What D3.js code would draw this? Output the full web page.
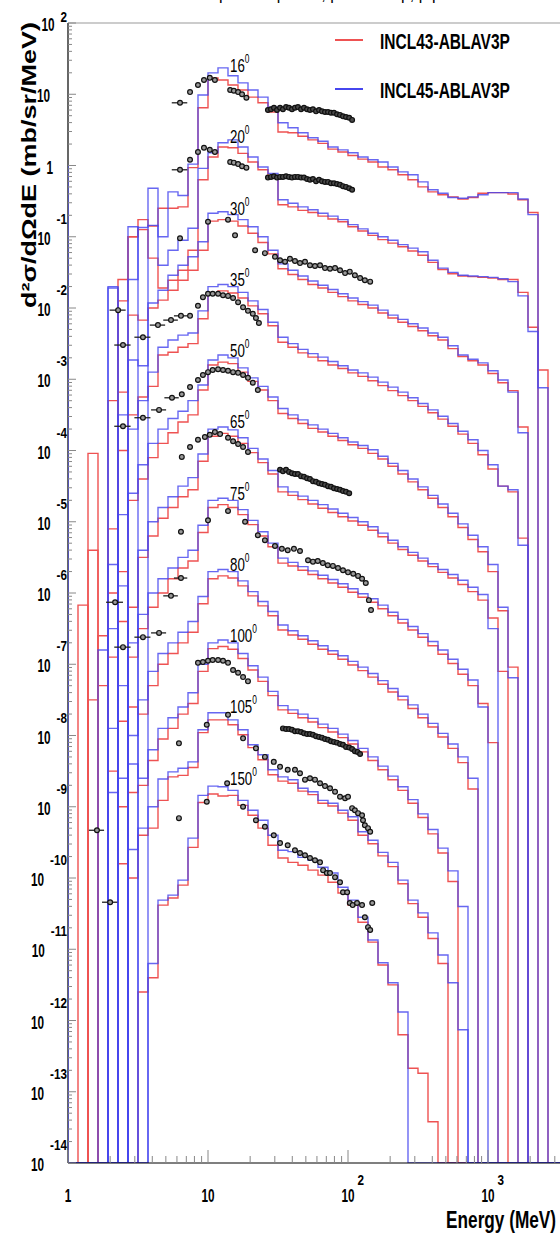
<!DOCTYPE html>
<html>
<head>
<meta charset="utf-8">
<script src="https://cdn.jsdelivr.net/npm/d3@7"></script>
<style>
  body { margin: 0; background: #fff; }
  svg { display: block; }
  text { font-family: "Liberation Sans", Arial, sans-serif; fill: #000; }
</style>
</head>
<body>
<svg id="chart" width="560" height="1238"></svg>
<script>
// Energy binning of the model histograms: logarithmic, 14 bins per decade from 1 MeV
const binsPerDecade = 14;
const nBins = 52;

// Emission angles (degrees) and the factor 10^n applied to each spectrum
const angles = ["16", "20", "30", "35", "50", "65", "75", "80", "100", "105", "150"];
const scaleExp = [0, -1, -2, -3, -4, -5, -6, -7, -8, -9, -10];

// log10 of d2sigma/dOmega dE (mb/sr/MeV) per energy bin, before the 10^n factor; null = empty bin
const incl43 = [
  [null,null,null,null,null,-1.6,-1.0,-0.76,-0.85,-0.6,-0.6,-0.58,-0.03, 0.81,1.23,1.20,1.13,1.06,0.96,0.88,0.75, 0.47,0.46,0.41,0.36,0.31,0.23,0.19,0.14,0.09,0.05,-0.02,-0.06,-0.13,-0.20,-0.30,-0.37,-0.41,-0.44,-0.47,-0.45,-0.39,-0.38,-0.38,-0.40,-0.48,-0.66,-2.87],
  [null,null,null,null,null,-0.9,0.0,0.10,-0.3,-0.72,-0.61,-0.47,-0.19, 0.80,1.12,1.26,1.25,1.17,1.05,0.94,0.84, 0.45,0.42,0.37,0.34,0.29,0.25,0.21,0.14,0.08,0.02,-0.04,-0.09,-0.14,-0.20,-0.26,-0.36,-0.46,-0.52,-0.55,-0.56,-0.57,-0.58,-0.60,-0.60,-0.78,-1.27],
  [null,null,null,null,-1.3,-1.18,-0.10,-0.17,0.0,0.11,0.25,0.39,0.53, 0.81,1.22,1.24,1.22,1.15,1.05,0.92,0.76, 0.55,0.47,0.40,0.33,0.28,0.22,0.16,0.10,0.05,0.00,-0.07,-0.14,-0.20,-0.26,-0.32,-0.39,-0.45,-0.57,-0.68,-0.74,-0.80,-0.92,-1.05,-1.16,-1.67],
  [null,null,null,null,null,-1.0,-0.5,-0.25,-0.1,0.34,0.38,0.45,0.50, 0.85,1.20,1.24,1.21,1.14,1.03,0.92,0.75, 0.52,0.45,0.37,0.31,0.26,0.20,0.15,0.09,0.04,-0.02,-0.09,-0.16,-0.23,-0.30,-0.38,-0.47,-0.56,-0.66,-0.77,-0.90,-1.06,-1.26,-1.50,-1.58,-2.23],
  [null,null,-0.04,null,-1.1,null,-0.7,-0.4,-0.1,0.1,0.25,0.4,0.5, 0.85,1.20,1.24,1.22,1.10,0.97,0.85,0.70, 0.52,0.45,0.38,0.31,0.26,0.20,0.14,0.08,0.03,-0.04,-0.12,-0.22,-0.33,-0.44,-0.55,-0.67,-0.80,-0.93,-1.08,-1.25,-1.42,-1.70,-2.25,-3.04],
  [null,null,-0.4,null,-1.0,-0.7,-1.2,-0.5,-0.2,0.05,0.2,0.35,0.45, 0.85,1.20,1.24,1.20,1.10,0.97,0.83,0.67, 0.42,0.37,0.31,0.25,0.19,0.13,0.07,0.01,-0.05,-0.12,-0.21,-0.30,-0.39,-0.47,-0.55,-0.63,-0.71,-0.79,-0.88,-0.98,-1.10,-1.35,-2.10],
  [null,-0.17,null,-0.6,-0.9,-0.4,-0.9,-0.5,-0.2,0.0,0.2,0.35,0.45, 0.85,1.20,1.24,1.20,1.10,0.96,0.80,0.65, 0.42,0.38,0.32,0.26,0.20,0.14,0.08,0.01,-0.06,-0.13,-0.22,-0.32,-0.42,-0.52,-0.62,-0.74,-0.86,-0.99,-1.14,-1.30,-1.55,-2.10],
  [null,null,-0.5,-0.3,null,-0.8,-0.6,-0.7,-0.3,0.0,0.15,0.3,0.45, 0.85,1.20,1.24,1.21,1.10,0.96,0.82,0.68, 0.48,0.41,0.35,0.28,0.21,0.14,0.07,-0.01,-0.09,-0.18,-0.28,-0.39,-0.50,-0.62,-0.75,-0.88,-1.02,-1.18,-1.38,-1.75],
  [null,null,null,null,-0.5,-1.0,-0.8,-0.7,-0.35,-0.05,0.1,0.3,0.45, 0.90,1.22,1.25,1.21,1.08,0.92,0.76,0.56, 0.36,0.31,0.25,0.19,0.11,0.05,-0.03,-0.12,-0.23,-0.35,-0.48,-0.62,-0.77,-0.95,-1.15,-1.38,-1.65,-2.05],
  [null,null,null,null,null,-0.8,-1.0,-0.4,-0.3,0.09,0.42,0.44,0.55, 1.04,1.22,1.22,1.15,1.01,0.83,0.66,0.45, 0.36,0.33,0.22,0.17,0.05,0.01,-0.09,-0.19,-0.40,-0.52,-0.69,-0.84,-1.08,-1.36,-1.55,-1.85,-2.20],
  [null,null,null,null,null,null,null,-1.6,-1.4,-0.38,-0.28,-0.10,0.43, 1.06,1.18,1.15,1.16,1.02,0.88,0.70,0.46, 0.28,0.22,0.18,0.11,0.04,-0.06,-0.21,-0.38,-0.62,-0.90,-1.22,-1.50,-2.20,-2.67,-2.74,-3.42]
];
const incl45 = [
  [null,null,null,null,-1.7,null,-0.86,null,-0.32,-1.0,-0.37,-0.42,0.02, 0.99,1.30,1.37,1.26,1.16,1.06,0.96,0.82, 0.60,0.53,0.46,0.39,0.34,0.26,0.22,0.18,0.12,0.08,0.05,-0.02,-0.09,-0.13,-0.23,-0.34,-0.39,-0.45,-0.46,-0.44,-0.41,-0.38,-0.38,-0.38,-0.47,-0.69,-3.12],
  [null,null,null,null,-0.72,null,-0.6,0.13,0.16,-0.40,-0.19,-0.05,0.12, 0.96,1.18,1.32,1.36,1.26,1.12,0.98,0.89, 0.52,0.47,0.42,0.38,0.33,0.29,0.24,0.17,0.11,0.05,0.00,-0.05,-0.11,-0.16,-0.21,-0.33,-0.44,-0.50,-0.54,-0.55,-0.56,-0.57,-0.59,-0.63,-0.83,-1.33],
  [null,null,null,null,null,-1.5,-0.73,-0.81,0.07,0.25,0.46,0.60,0.72, 0.93,1.33,1.35,1.31,1.24,1.14,1.00,0.81, 0.62,0.53,0.45,0.38,0.32,0.26,0.20,0.14,0.09,0.04,-0.03,-0.10,-0.16,-0.22,-0.28,-0.35,-0.41,-0.53,-0.66,-0.72,-0.77,-0.88,-1.01,-1.18,-1.75],
  [null,null,null,null,null,null,-0.7,-0.3,0.1,0.45,0.55,0.62,0.65, 0.96,1.30,1.33,1.30,1.22,1.10,0.98,0.80, 0.59,0.50,0.42,0.36,0.31,0.25,0.19,0.13,0.09,0.03,-0.04,-0.11,-0.18,-0.26,-0.34,-0.43,-0.52,-0.62,-0.73,-0.85,-1.00,-1.20,-1.50,-1.55,-2.33],
  [null,null,null,null,null,-0.9,-0.6,-0.2,0.1,0.3,0.45,0.55,0.70, 0.92,1.27,1.34,1.30,1.16,1.02,0.90,0.75, 0.59,0.50,0.43,0.36,0.30,0.24,0.18,0.12,0.07,0.01,-0.08,-0.18,-0.28,-0.40,-0.51,-0.63,-0.75,-0.88,-1.03,-1.19,-1.35,-1.60,-2.20,-3.19],
  [null,null,null,null,-0.6,-0.9,null,-0.4,0.0,0.2,0.35,0.5,0.62, 0.95,1.30,1.33,1.29,1.18,1.03,0.88,0.72, 0.49,0.42,0.36,0.30,0.24,0.18,0.12,0.06,0.00,-0.07,-0.16,-0.26,-0.35,-0.43,-0.51,-0.59,-0.67,-0.74,-0.82,-0.92,-1.02,-1.50],
  [null,null,null,-0.8,-0.5,null,-0.7,-0.3,0.0,0.2,0.35,0.5,0.6, 0.95,1.30,1.33,1.30,1.17,1.02,0.86,0.70, 0.49,0.43,0.37,0.31,0.25,0.19,0.13,0.06,-0.01,-0.08,-0.17,-0.27,-0.37,-0.47,-0.57,-0.68,-0.80,-0.93,-1.07,-1.22,-1.60],
  [null,null,null,null,-0.9,-0.3,-1.0,-0.5,-0.1,0.15,0.3,0.45,0.6, 0.95,1.30,1.33,1.30,1.17,1.02,0.88,0.74, 0.55,0.47,0.40,0.33,0.26,0.19,0.12,0.04,-0.04,-0.13,-0.23,-0.34,-0.45,-0.57,-0.70,-0.83,-0.97,-1.12,-1.30,-1.60],
  [null,null,null,null,-0.8,-0.6,-0.4,-0.6,-0.2,0.1,0.25,0.4,0.6, 1.00,1.30,1.34,1.30,1.15,0.98,0.82,0.62, 0.42,0.36,0.30,0.24,0.16,0.10,0.02,-0.07,-0.18,-0.30,-0.43,-0.57,-0.72,-0.90,-1.10,-1.32,-1.58,-1.90,-2.40],
  [null,null,null,null,null,null,-0.6,-0.3,0.0,0.39,0.49,0.54,0.63, 1.08,1.32,1.32,1.22,1.08,0.87,0.73,0.52, 0.42,0.38,0.26,0.21,0.09,0.05,-0.05,-0.14,-0.35,-0.47,-0.64,-0.78,-1.03,-1.31,-1.49,-1.77,-2.08,-2.47,-3.13],
  [null,null,null,null,null,null,null,null,-1.2,-0.31,-0.24,-0.03,0.56, 1.16,1.29,1.28,1.23,1.09,0.95,0.81,0.60, 0.39,0.37,0.29,0.25,0.15,0.07,-0.13,-0.31,-0.55,-0.87,-1.19,-1.47,-1.88]
];
// Content of the bin just below 1 MeV (outside the drawn range), same units
const below43 = [null, null, null, null, null, null, null, null, null, null, null];
const below45 = [0.0, null, null, null, null, null, null, null, null, null, null];

// Measured spectra: [E (MeV), log10 d2sigma/dOmega dE before the 10^n factor, optional half-width of the energy bin]
const data16 = [[6.31,0.88,0.8],[7.44,1.03],[8.48,1.13],[9.36,1.20],[10.3,1.23],[11.2,1.20],[14.4,1.06],[15.3,1.05],[16.4,1.03],[17.5,1.00],[18.8,0.95]];
const data20 = [[6.31,0.94,0.8],[7.44,1.08],[8.48,1.19],[9.36,1.25],[10.3,1.22],[11.2,1.19],[14.4,1.05],[15.3,1.04],[16.4,1.02],[17.5,0.99],[18.8,0.97]];
const data30 = [[6.31,0.98],[10.0,1.21],[13.9,1.24],[15.6,1.02],[21.7,0.81],[25.5,0.77],[30.1,0.72],[32.7,0.67],[35.5,0.65],[38.5,0.69],[41.8,0.66],[45.4,0.63],[49.3,0.65],[53.5,0.60],[58.1,0.59],[63.1,0.60],[68.5,0.56],[74.4,0.55],[80.8,0.56],[87.7,0.53],[95.3,0.49],[103,0.51],[112,0.46],[122,0.42],[132,0.39],[144,0.37]];
const data35 = [[2.28,0.97,0.3],[2.47,0.48,0.33],[3.43,0.59,0.45],[4.39,0.76,0.55],[5.44,0.83,0.65],[6.41,0.89,0.7],[7.44,0.89],[8.48,1.03],[9.2,1.15],[10.0,1.20],[10.8,1.20],[11.8,1.20],[12.8,1.18],[13.9,1.17],[15.1,1.14],[16.4,1.08],[17.8,1.01],[19.3,0.96],[20.9,0.92],[22.0,0.86],[23.1,0.79]];
const data50 = [[2.47,0.34,0.33],[3.43,0.46,0.45],[4.47,0.57,0.55],[5.53,0.74,0.65],[6.5,0.79],[7.44,0.89],[8.48,0.99],[9.2,1.06],[10.0,1.10],[10.8,1.13],[11.8,1.14],[12.8,1.13],[13.9,1.12],[15.1,1.10],[16.4,1.09],[17.8,1.06],[19.3,1.02],[20.9,0.95],[22.7,0.85]];
const data65 = [[6.5,0.91],[7.44,1.05],[8.48,1.15],[9.5,1.19],[10.3,1.22],[11.2,1.26],[12.2,1.23],[13.9,1.18],[15.1,1.13],[16.4,1.09],[17.8,1.05],[19.3,0.98]];
const data75 = [[6.41,0.86],[10.0,1.02],[13.9,1.15],[18.4,1.0],[22.7,0.81],[25.5,0.74],[30.1,0.66],[33.7,0.62],[37.1,0.60],[41.1,0.62],[45.4,0.59],[51.8,0.46],[56.2,0.44],[60.8,0.45],[66.1,0.42],[71.7,0.39],[78.0,0.38],[84.8,0.35],[92.1,0.32],[100,0.29],[109,0.27],[118,0.24],[126,0.20],[134,0.14],[141,-0.10],[146,-0.24]];
const data80 = [[2.17,0.87,0.3],[2.47,0.24,0.33],[3.43,0.38,0.45],[4.47,0.44,0.55],[5.44,0.96,0.65],[6.41,1.21,0.7]];
const data100 = [[8.48,1.02],[9.2,1.03],[10.0,1.05],[10.8,1.06],[11.8,1.06],[12.8,1.05],[13.9,1.02],[15.1,0.92],[16.4,0.88],[17.8,0.82],[19.3,0.76]];
const data105 = [[6.2,0.89],[9.8,1.15],[13.9,1.29],[17.8,0.96],[22.0,0.82],[25.5,0.70],[29.5,0.63],[32.7,0.56],[37.1,0.52],[41.8,0.52],[45.4,0.47],[49.3,0.38],[53.5,0.40],[58.1,0.38],[63.1,0.33],[68.5,0.29],[74.4,0.26],[80.8,0.21],[87.7,0.14],[95.3,0.12],[100,0.14],[107,-0.02],[112,-0.05],[118,-0.09],[126,-0.12],[128,-0.19],[132,-0.26],[139,-0.30],[144,-0.35]];
const data150 = [[1.61,0.67,0.2],[2.0,-0.34,0.25],[6.2,0.84],[9.8,1.07],[13.7,1.33],[17.8,1.0],[22.0,0.81],[25.5,0.72],[29.5,0.60],[32.7,0.49],[37.1,0.46],[41.8,0.39],[45.4,0.35],[49.3,0.32],[53.5,0.28],[58.1,0.25],[63.1,0.22],[66.4,0.11],[70.6,0.07],[74.4,0.07],[80.8,0.01],[87.7,-0.06],[92.1,-0.20],[98.6,-0.20],[103,-0.35],[108,-0.38],[116,-0.35],[126,-0.38],[132,-0.55],[139,-0.69],[144,-0.73],[149,-0.35]];

// High-statistics runs share one energy grid
const bandEnergy = [26.8,28.2,29.6,31.1,32.7,34.3,36.1,37.9,39.8,41.8,43.9,46.2,48.5,51.0,53.5,56.2,59.1,62.1,65.2,68.5,72.0,75.6,79.4,83.5,87.7,92.1,96.8,102,107,112,117,122];
const band16 = [0.78,0.79,0.81,0.78,0.81,0.79,0.82,0.81,0.79,0.81,0.82,0.79,0.81,0.79,0.78,0.79,0.76,0.78,0.76,0.75,0.75,0.74,0.74,0.72,0.71,0.69,0.68,0.67,0.64,null,null,null];
const band20 = [0.83,0.84,0.85,0.83,0.84,0.84,0.85,0.84,0.83,0.84,0.84,0.83,0.83,0.81,0.80,0.81,0.78,0.80,0.78,0.77,0.77,0.75,0.75,0.74,0.73,0.71,0.70,0.68,0.66,null,null,null];
const band65 = [null,null,null,null,0.73,0.71,0.73,0.70,0.68,0.67,0.67,0.64,0.63,0.61,0.60,0.57,0.56,0.54,0.53,0.52,0.50,0.49,0.47,0.46,0.45,0.43,0.42,0.40,null,null,null,null];
const band100 = [null,null,null,null,null,0.10,0.09,0.09,0.08,0.06,0.06,0.05,0.03,0.02,0.02,0.01,-0.01,-0.02,-0.03,-0.05,-0.06,-0.08,-0.09,-0.10,-0.12,-0.13,-0.16,-0.17,-0.19,-0.22,-0.23,-0.26];

const measured = [data16, data20, data30, data35, data50, data65, data75, data80, data100, data105, data150];
const bands = [band16, band20, null, null, null, band65, null, null, band100, null, null];

// Axis tick values
const yDecades = d3.range(-14, 3);
const xDecades = [0, 1, 2, 3];

// ---------------------------------------------------------------
const svg = d3.select("#chart");
const pL = 68, pT = 23, pB = 1163, pR = 560;
const x = d3.scaleLog().domain([1, Math.pow(10, 3.7)]).range([pL, pL + 140 * 3.7]);
const y = d3.scaleLog().domain([1e-14, 1e2]).range([pB, pT]);

const edges = d3.range(-1, nBins + 1).map(k => Math.pow(10, k / binsPerDecade));

svg.append("defs").append("clipPath").attr("id", "plotArea")
  .append("rect").attr("x", pL).attr("y", pT).attr("width", pR - pL + 40).attr("height", pB - pT);

function yOf(logv, s) {
  if (logv == null) return pB;
  return Math.min(pB, y(Math.pow(10, logv + s)));
}

// Step outline; the first bin lies below 1 MeV and only its right edge shows
function stepPath(vals, under, s) {
  const all = [under].concat(vals);
  const pts = [[x(edges[0]), pB]];
  for (let k = 0; k < edges.length - 1; k++) {
    const yy = yOf(k < all.length ? all[k] : null, s);
    pts.push([x(edges[k]), yy], [x(edges[k + 1]), yy]);
  }
  pts.push([x(edges[edges.length - 1]), pB]);
  return d3.line()(pts);
}

// Text squeezed horizontally to a given width
function fitText(g, str, px, py, size, width, anchor, weight) {
  const t = g.append("text").attr("font-size", size).attr("font-weight", weight || "bold")
    .attr("text-anchor", anchor || "start").text(str);
  const natural = t.node().getComputedTextLength();
  t.attr("transform", `translate(${px},${py}) scale(${width / natural},1)`);
  return t;
}
function drawText(g, str, px, py, o) {
  return g.append("text")
    .attr("transform", `translate(${px},${py}) scale(${o.sx || 1},1)`)
    .attr("font-size", o.size)
    .attr("font-weight", o.weight || "normal")
    .attr("text-anchor", o.anchor || "start")
    .text(str);
}

// Title, running off the top of the page
svg.append("text").attr("x", 330).attr("y", 0).attr("text-anchor", "middle")
  .attr("font-family", "Liberation Serif, serif").attr("font-size", 16)
  .text("proton spectra, p + Au \u2192 p, p p");

// Frame top and left axis (histograms may cover the left axis)
svg.append("line").attr("x1", pL).attr("x2", pR).attr("y1", pT).attr("y2", pT)
  .attr("stroke", "#999").attr("stroke-width", 1.2);
svg.append("line").attr("x1", pL).attr("x2", pL).attr("y1", pT).attr("y2", pB).attr("stroke", "#000").attr("stroke-width", 1.2);

const plotG = svg.append("g").attr("clip-path", "url(#plotArea)");

// Model histograms
const red = "#ee5252", blue = "#4646ee";
incl43.forEach((vals, i) => {
  plotG.append("path").attr("d", stepPath(vals, below43[i], scaleExp[i]))
    .attr("fill", "none").attr("stroke", red).attr("stroke-width", 1.4);
});
incl45.forEach((vals, i) => {
  plotG.append("path").attr("d", stepPath(vals, below45[i], scaleExp[i]))
    .attr("fill", "none").attr("stroke", blue).attr("stroke-width", 1.4).attr("stroke-opacity", 0.82);
});

// Measured points
const markG = plotG.append("g");
function marker(E, logv, s, dE, fill) {
  const cx = x(E), cy = y(Math.pow(10, logv + s));
  if (dE) {
    markG.append("line").attr("x1", x(E - dE)).attr("x2", x(E + dE)).attr("y1", cy).attr("y2", cy)
      .attr("stroke", "#222").attr("stroke-width", 1.3);
  }
  markG.append("circle").attr("cx", cx).attr("cy", cy).attr("r", 2.4)
    .attr("fill", fill || "#9a9a9a").attr("stroke", "#111").attr("stroke-width", 1.2);
}
measured.forEach((pts, i) => pts.forEach(p => marker(p[0], p[1], scaleExp[i], p[2])));
bands.forEach((b, i) => {
  if (!b) return;
  b.forEach((v, j) => { if (v != null) marker(bandEnergy[j], v, scaleExp[i], null, "#4a4a4a"); });
});

// Angle labels
angles.forEach((a, i) => {
  const t = svg.append("text")
    .attr("transform", `translate(230,${y(Math.pow(10, 1.31 + scaleExp[i]))}) scale(0.7,1)`)
    .attr("font-size", 19);
  t.append("tspan").text(a);
  t.append("tspan").attr("font-size", 12).attr("dy", -9).text("0");
});

// Bottom axis line
svg.append("line").attr("x1", pL).attr("x2", pR).attr("y1", pB).attr("y2", pB).attr("stroke", "#000").attr("stroke-width", 1.2);

// Y ticks
const tickG = svg.append("g").attr("stroke", "#888").attr("stroke-width", 1);
yDecades.forEach(n => {
  const T = y(Math.pow(10, n));
  tickG.append("line").attr("x1", pL).attr("x2", pL + 8).attr("y1", T).attr("y2", T);
  if (n < 2) {
    for (let m = 2; m <= 9; m++) {
      const tm = y(m * Math.pow(10, n));
      tickG.append("line").attr("x1", pL).attr("x2", pL + 4).attr("y1", tm).attr("y2", tm);
    }
  }
});
// X ticks
xDecades.forEach(n => {
  const T = x(Math.pow(10, n));
  tickG.append("line").attr("x1", T).attr("x2", T).attr("y1", pB).attr("y2", pB - 13);
  for (let m = 2; m <= 9; m++) {
    const tm = x(m * Math.pow(10, n));
    if (tm < pR) tickG.append("line").attr("x1", tm).attr("x2", tm).attr("y1", pB).attr("y2", pB - 7);
  }
});

// Y tick labels (10 with exponent)
const labG = svg.append("g");
const big = { size: 19, weight: "bold", sx: 0.62 };
const sup = { size: 15, weight: "bold", sx: 0.78 };
yDecades.forEach(n => {
  const T = y(Math.pow(10, n));
  if (n === 0) { drawText(labG, "1", 53, T + 8, Object.assign({ anchor: "end" }, big)); return; }
  if (n === 1) { drawText(labG, "10", 50, T + 8, Object.assign({ anchor: "end" }, big)); return; }
  const e = drawText(labG, String(n), 67, n === 2 ? T - 1 : T - 13, Object.assign({ anchor: "end" }, sup));
  const w = e.node().getComputedTextLength() * sup.sx;
  drawText(labG, "10", 67 - w - 6, T + 8, Object.assign({ anchor: "end" }, big));
});
// X tick labels
xDecades.forEach(n => {
  const T = x(Math.pow(10, n));
  if (n === 0) { drawText(labG, "1", T, 1202, Object.assign({ anchor: "middle" }, big)); return; }
  const t = drawText(labG, "10", T, 1202, Object.assign({ anchor: "middle" }, big));
  if (n >= 2) {
    const w = t.node().getComputedTextLength() * big.sx;
    drawText(labG, String(n), T + w / 2 + 3, 1185, sup);
  }
});

// Axis titles
fitText(svg, "Energy (MeV)", 556, 1228, 23, 110, "end");
const yTitle = svg.append("text").attr("font-size", 20).attr("font-weight", "bold")
  .text("d\u00b2\u03c3/d\u03a9dE (mb/sr/MeV)");
const yLen = yTitle.node().getComputedTextLength();
yTitle.attr("transform", `translate(36,308) rotate(-90) scale(${286 / yLen},1)`);

// Legend
const leg = [["INCL43-ABLAV3P", red, 40], ["INCL45-ABLAV3P", blue, 89]];
leg.forEach(([name, c, ly]) => {
  svg.append("line").attr("x1", 335).attr("x2", 363).attr("y1", ly).attr("y2", ly)
    .attr("stroke", c).attr("stroke-width", 2);
  fitText(svg, name, 380, ly + 9, 22, 130, "start");
});
</script>
</body>
</html>
